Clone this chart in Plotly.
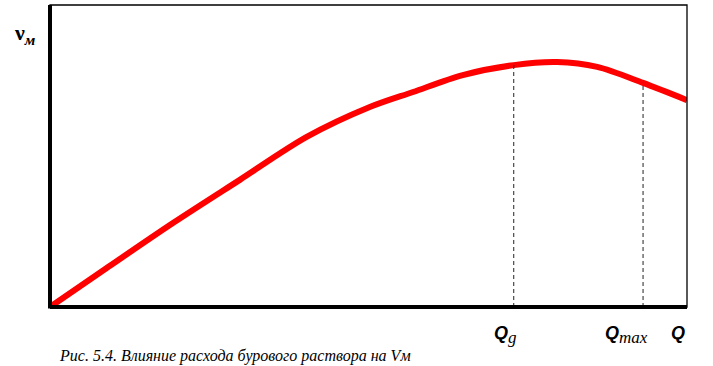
import plotly.graph_objects as go

# Curve data (Q, v_m) in relative units
q_values = [0, 8.9, 19.3, 29.8, 40.3, 50.2, 57.0, 64.8, 72.8, 79.6, 85.9, 93.1, 100]
v_values = [0, 12.9, 27.8, 42.1, 56.3, 66.2, 71.2, 76.8, 80.1, 81.1, 79.5, 74.2, 68.5]

q_g = 72.8
v_g = 80.1
q_max = 93.1
v_max = 74.2

SERIF = "Liberation Serif"
SANS = "Liberation Sans"
SUBSPAN = "<span style=\"font-family:'Liberation Serif';font-size:17px\">{}</span>"

fig = go.Figure()
fig.add_trace(go.Scatter(
    x=q_values, y=v_values, mode="lines",
    line=dict(color="#ff0000", width=6, shape="spline", smoothing=0.9),
    hoverinfo="skip", showlegend=False, cliponaxis=False,
))
for qx, vy in [(q_g, v_g), (q_max, v_max)]:
    fig.add_trace(go.Scatter(
        x=[qx, qx], y=[0, vy], mode="lines",
        line=dict(color="#222222", width=1, dash="4px,3px"),
        hoverinfo="skip", showlegend=False,
    ))

fig.update_xaxes(range=[0, 100], visible=False, fixedrange=True)
fig.update_yaxes(range=[0, 100], visible=False, fixedrange=True)

shapes = [
    dict(type="rect", xref="paper", yref="paper", x0=0, y0=0, x1=1, y1=1,
         line=dict(color="black", width=1.3)),
    dict(type="line", xref="paper", yref="paper", x0=0, y0=-0.005, x1=0, y1=1,
         line=dict(color="black", width=4)),
    dict(type="line", xref="paper", yref="paper", x0=0, y0=0, x1=1, y1=0,
         line=dict(color="black", width=4)),
]

annotations = [
    dict(xref="paper", yref="paper", x=-0.04, y=0.905, xanchor="center", yanchor="middle",
         text="<b>ν</b><sub><b><i>м</i></b></sub>", showarrow=False,
         font=dict(family=SERIF, size=22, color="black")),
    dict(xref="paper", yref="paper", x=(505 - 50) / 637, y=-0.045, xanchor="center", yanchor="top",
         text="<b><i>Q</i></b><sub><i>" + SUBSPAN.format("g") + "</i></sub>",
         showarrow=False, font=dict(family=SANS, size=18, color="black")),
    dict(xref="paper", yref="paper", x=(626 - 50) / 637, y=-0.045, xanchor="center", yanchor="top",
         text="<b><i>Q</i></b><sub><i>" + SUBSPAN.format("max") + "</i></sub>",
         showarrow=False, font=dict(family=SANS, size=18, color="black")),
    dict(xref="paper", yref="paper", x=1.0, y=-0.045, xanchor="right", yanchor="top",
         text="<b><i>Q</i></b>", showarrow=False,
         font=dict(family=SANS, size=18, color="black")),
    dict(xref="paper", yref="paper", x=0.011, y=-0.125, xanchor="left", yanchor="top",
         text="<i>Рис. 5.4. Влияние расхода бурового раствора на Vм</i>", showarrow=False,
         font=dict(family=SERIF, size=16, color="black")),
]

fig.update_layout(
    width=713, height=366,
    margin=dict(l=50, r=26, t=5, b=59),
    paper_bgcolor="white", plot_bgcolor="white",
    shapes=shapes, annotations=annotations,
    showlegend=False,
)

fig.write_html("out.html", config={"displayModeBar": False},
               post_script="document.body.style.margin='0';document.body.style.padding='0';")
